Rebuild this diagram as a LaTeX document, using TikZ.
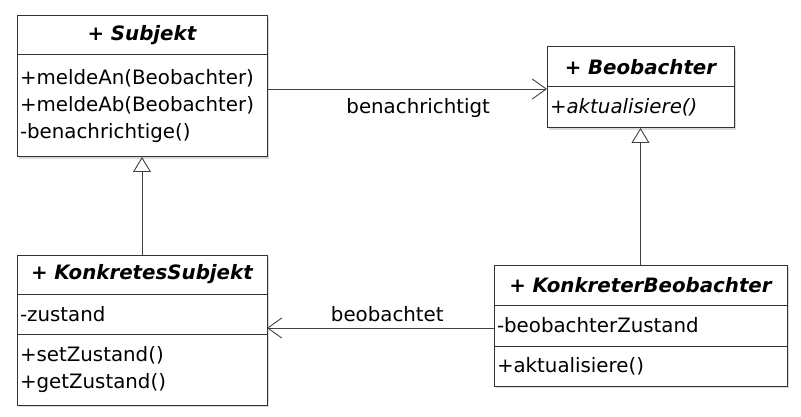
\documentclass[tikz,border=0pt]{standalone}
\usepackage{fontspec}
\setmainfont{DejaVu Sans}
\usepackage{tikz}
\usetikzlibrary{positioning}
\usetikzlibrary{arrows.meta}
\usetikzlibrary{shadows}
\newcommand{\umlfont}{\fontsize{19.8}{27}\selectfont}

\begin{document}
\begin{tikzpicture}[
    x=1pt, y=-1pt,
    classbox/.style={
        draw=black!80,
        fill=white,
        line width=1pt,
        outer sep=0pt,
        inner xsep=3pt,
        inner ysep=0pt,
        drop shadow={shadow xshift=2pt, shadow yshift=-2pt, opacity=0.3},
    },
    classhead/.style={
        classbox,
        font={\umlfont\bfseries\itshape},
        align=center,
        minimum height=40,
    },
    classpart/.style={
        classbox,
        font=\umlfont,
        align=left,
        minimum height=40,
    },
    assoc/.style={
        draw=black!75,
        line width=0.9pt,
        -{Straight Barb[length=14pt, width=20pt, line width=0.9pt]},
    },
    inherit/.style={
        draw=black!75,
        line width=0.9pt,
        -{Triangle[open, fill=white, length=15pt, width=18pt, line width=0.9pt]},
    },
    assoclabel/.style={
        font=\umlfont,
        inner sep=2pt
    }
]
\useasboundingbox (0,0) rectangle (801,417);

% Subjekt
\node[classhead, text width=244pt, anchor=north west, minimum height=39] (subjektHead) at (17,16) {+ Subjekt};
\node[classpart, text width=244pt, minimum height=102, below=0pt of subjektHead] (subjektOps)
    {+meldeAn(Beobachter)\\+meldeAb(Beobachter)\\-benachrichtige()};

% Beobachter
\node[classhead, text width=181pt, anchor=north west] (beobHead) at (547,47) {+ Beobachter};
\node[classpart, text width=181pt, minimum height=41, below=0pt of beobHead] (beobOps)
    {\itshape +aktualisiere()};

% KonkretesSubjekt
\node[classhead, text width=244pt, anchor=north west, minimum height=39] (ksHead) at (17,255) {+ KonkretesSubjekt};
\node[classpart, text width=244pt, below=0pt of ksHead] (ksAttr) {-zustand};
\node[classpart, text width=244pt, minimum height=71, below=0pt of ksAttr] (ksOps)
    {+setZustand()\\+getZustand()};

% KonkreterBeobachter
\node[classhead, text width=287pt, anchor=north west] (kbHead) at (494,265) {+ KonkreterBeobachter};
\node[classpart, text width=287pt, minimum height=41, below=0pt of kbHead] (kbAttr) {-beobachterZustand};
\node[classpart, text width=287pt, below=0pt of kbAttr] (kbOps) {+aktualisiere()};

% Vererbung
\draw[inherit] (ksHead) -- (subjektOps);
\draw[inherit] (kbHead) -- (beobOps);

% Assoziationen
\coordinate (benTip) at ([yshift=-2pt]beobOps.north west);
\draw[assoc] (subjektOps.east |- benTip) -- node[assoclabel, below=7pt, pos=0.54] {benachrichtigt} (benTip);

\coordinate (beoStart) at ([yshift=-2.5pt]kbAttr.west);
\draw[assoc] (beoStart) -- node[assoclabel, above=4pt, pos=0.47] {beobachtet} (beoStart -| ksAttr.east);
\end{tikzpicture}
\end{document}
